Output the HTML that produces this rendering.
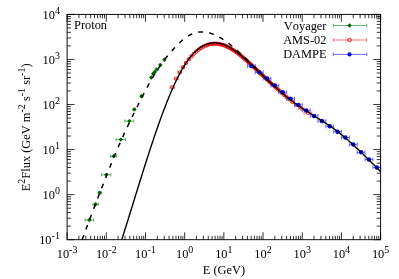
<!DOCTYPE html>
<html><head><meta charset="utf-8"><title>Proton</title>
<style>
html,body{margin:0;padding:0;background:#fff;}
body{width:399px;height:279px;overflow:hidden;position:relative;font-family:"Liberation Serif",serif;}
svg{will-change:transform;}
svg text{font-family:"Liberation Serif",serif;fill:#000;font-kerning:none;}
</style></head><body>
<svg width="399" height="279" viewBox="0 0 399 279" style="position:absolute;left:0;top:0">
<rect width="399" height="279" fill="#fff"/>
<path d="M67.10,239.7 v-7.4 M67.10,14.4 v7.4 M78.90,239.7 v-3.9 M78.90,14.4 v3.9 M85.80,239.7 v-3.9 M85.80,14.4 v3.9 M90.69,239.7 v-3.9 M90.69,14.4 v3.9 M94.49,239.7 v-3.9 M94.49,14.4 v3.9 M97.59,239.7 v-3.9 M97.59,14.4 v3.9 M100.22,239.7 v-3.9 M100.22,14.4 v3.9 M102.49,239.7 v-3.9 M102.49,14.4 v3.9 M104.49,239.7 v-3.9 M104.49,14.4 v3.9 M106.29,239.7 v-7.4 M106.29,14.4 v7.4 M118.08,239.7 v-3.9 M118.08,14.4 v3.9 M124.98,239.7 v-3.9 M124.98,14.4 v3.9 M129.88,239.7 v-3.9 M129.88,14.4 v3.9 M133.68,239.7 v-3.9 M133.68,14.4 v3.9 M136.78,239.7 v-3.9 M136.78,14.4 v3.9 M139.40,239.7 v-3.9 M139.40,14.4 v3.9 M141.68,239.7 v-3.9 M141.68,14.4 v3.9 M143.68,239.7 v-3.9 M143.68,14.4 v3.9 M145.47,239.7 v-7.4 M145.47,14.4 v7.4 M157.27,239.7 v-3.9 M157.27,14.4 v3.9 M164.17,239.7 v-3.9 M164.17,14.4 v3.9 M169.07,239.7 v-3.9 M169.07,14.4 v3.9 M172.87,239.7 v-3.9 M172.87,14.4 v3.9 M175.97,239.7 v-3.9 M175.97,14.4 v3.9 M178.59,239.7 v-3.9 M178.59,14.4 v3.9 M180.86,239.7 v-3.9 M180.86,14.4 v3.9 M182.87,239.7 v-3.9 M182.87,14.4 v3.9 M184.66,239.7 v-7.4 M184.66,14.4 v7.4 M196.46,239.7 v-3.9 M196.46,14.4 v3.9 M203.36,239.7 v-3.9 M203.36,14.4 v3.9 M208.26,239.7 v-3.9 M208.26,14.4 v3.9 M212.05,239.7 v-3.9 M212.05,14.4 v3.9 M215.16,239.7 v-3.9 M215.16,14.4 v3.9 M217.78,239.7 v-3.9 M217.78,14.4 v3.9 M220.05,239.7 v-3.9 M220.05,14.4 v3.9 M222.06,239.7 v-3.9 M222.06,14.4 v3.9 M223.85,239.7 v-7.4 M223.85,14.4 v7.4 M235.65,239.7 v-3.9 M235.65,14.4 v3.9 M242.55,239.7 v-3.9 M242.55,14.4 v3.9 M247.44,239.7 v-3.9 M247.44,14.4 v3.9 M251.24,239.7 v-3.9 M251.24,14.4 v3.9 M254.34,239.7 v-3.9 M254.34,14.4 v3.9 M256.97,239.7 v-3.9 M256.97,14.4 v3.9 M259.24,239.7 v-3.9 M259.24,14.4 v3.9 M261.24,239.7 v-3.9 M261.24,14.4 v3.9 M263.04,239.7 v-7.4 M263.04,14.4 v7.4 M274.83,239.7 v-3.9 M274.83,14.4 v3.9 M281.73,239.7 v-3.9 M281.73,14.4 v3.9 M286.63,239.7 v-3.9 M286.63,14.4 v3.9 M290.43,239.7 v-3.9 M290.43,14.4 v3.9 M293.53,239.7 v-3.9 M293.53,14.4 v3.9 M296.15,239.7 v-3.9 M296.15,14.4 v3.9 M298.43,239.7 v-3.9 M298.43,14.4 v3.9 M300.43,239.7 v-3.9 M300.43,14.4 v3.9 M302.23,239.7 v-7.4 M302.23,14.4 v7.4 M314.02,239.7 v-3.9 M314.02,14.4 v3.9 M320.92,239.7 v-3.9 M320.92,14.4 v3.9 M325.82,239.7 v-3.9 M325.82,14.4 v3.9 M329.62,239.7 v-3.9 M329.62,14.4 v3.9 M332.72,239.7 v-3.9 M332.72,14.4 v3.9 M335.34,239.7 v-3.9 M335.34,14.4 v3.9 M337.61,239.7 v-3.9 M337.61,14.4 v3.9 M339.62,239.7 v-3.9 M339.62,14.4 v3.9 M341.41,239.7 v-7.4 M341.41,14.4 v7.4 M353.21,239.7 v-3.9 M353.21,14.4 v3.9 M360.11,239.7 v-3.9 M360.11,14.4 v3.9 M365.01,239.7 v-3.9 M365.01,14.4 v3.9 M368.80,239.7 v-3.9 M368.80,14.4 v3.9 M371.91,239.7 v-3.9 M371.91,14.4 v3.9 M374.53,239.7 v-3.9 M374.53,14.4 v3.9 M376.80,239.7 v-3.9 M376.80,14.4 v3.9 M378.81,239.7 v-3.9 M378.81,14.4 v3.9 M380.60,239.7 v-7.4 M380.60,14.4 v7.4 M67.1,239.70 h7.4 M380.6,239.70 h-7.4 M67.1,226.14 h3.9 M380.6,226.14 h-3.9 M67.1,218.20 h3.9 M380.6,218.20 h-3.9 M67.1,212.57 h3.9 M380.6,212.57 h-3.9 M67.1,208.20 h3.9 M380.6,208.20 h-3.9 M67.1,204.64 h3.9 M380.6,204.64 h-3.9 M67.1,201.62 h3.9 M380.6,201.62 h-3.9 M67.1,199.01 h3.9 M380.6,199.01 h-3.9 M67.1,196.70 h3.9 M380.6,196.70 h-3.9 M67.1,194.64 h7.4 M380.6,194.64 h-7.4 M67.1,181.08 h3.9 M380.6,181.08 h-3.9 M67.1,173.14 h3.9 M380.6,173.14 h-3.9 M67.1,167.51 h3.9 M380.6,167.51 h-3.9 M67.1,163.14 h3.9 M380.6,163.14 h-3.9 M67.1,159.58 h3.9 M380.6,159.58 h-3.9 M67.1,156.56 h3.9 M380.6,156.56 h-3.9 M67.1,153.95 h3.9 M380.6,153.95 h-3.9 M67.1,151.64 h3.9 M380.6,151.64 h-3.9 M67.1,149.58 h7.4 M380.6,149.58 h-7.4 M67.1,136.02 h3.9 M380.6,136.02 h-3.9 M67.1,128.08 h3.9 M380.6,128.08 h-3.9 M67.1,122.45 h3.9 M380.6,122.45 h-3.9 M67.1,118.08 h3.9 M380.6,118.08 h-3.9 M67.1,114.52 h3.9 M380.6,114.52 h-3.9 M67.1,111.50 h3.9 M380.6,111.50 h-3.9 M67.1,108.89 h3.9 M380.6,108.89 h-3.9 M67.1,106.58 h3.9 M380.6,106.58 h-3.9 M67.1,104.52 h7.4 M380.6,104.52 h-7.4 M67.1,90.96 h3.9 M380.6,90.96 h-3.9 M67.1,83.02 h3.9 M380.6,83.02 h-3.9 M67.1,77.39 h3.9 M380.6,77.39 h-3.9 M67.1,73.02 h3.9 M380.6,73.02 h-3.9 M67.1,69.46 h3.9 M380.6,69.46 h-3.9 M67.1,66.44 h3.9 M380.6,66.44 h-3.9 M67.1,63.83 h3.9 M380.6,63.83 h-3.9 M67.1,61.52 h3.9 M380.6,61.52 h-3.9 M67.1,59.46 h7.4 M380.6,59.46 h-7.4 M67.1,45.90 h3.9 M380.6,45.90 h-3.9 M67.1,37.96 h3.9 M380.6,37.96 h-3.9 M67.1,32.33 h3.9 M380.6,32.33 h-3.9 M67.1,27.96 h3.9 M380.6,27.96 h-3.9 M67.1,24.40 h3.9 M380.6,24.40 h-3.9 M67.1,21.38 h3.9 M380.6,21.38 h-3.9 M67.1,18.77 h3.9 M380.6,18.77 h-3.9 M67.1,16.46 h3.9 M380.6,16.46 h-3.9 M67.1,14.40 h7.4 M380.6,14.40 h-7.4" stroke="#000" stroke-width="0.8" fill="none"/>
<path d="M85.10,220.00 h8.40 M85.10,218.40 v3.2 M93.50,218.40 v3.2 M92.90,204.20 h5.40 M92.90,202.60 v3.2 M98.30,202.60 v3.2 M98.30,192.80 h3.00 M98.30,191.20 v3.2 M101.30,191.20 v3.2 M101.70,174.80 h9.20 M101.70,173.20 v3.2 M110.90,173.20 v3.2 M110.60,156.20 h6.00 M110.60,154.60 v3.2 M116.60,154.60 v3.2 M116.00,139.60 h9.60 M116.00,138.00 v3.2 M125.60,138.00 v3.2 M124.80,121.10 h9.00 M124.80,119.50 v3.2 M133.80,119.50 v3.2 M133.10,109.40 h2.40 M133.10,107.80 v3.2 M135.50,107.80 v3.2 M140.30,96.20 h2.40 M140.30,94.60 v3.2 M142.70,94.60 v3.2 M150.50,77.50 h1.60 M150.50,75.90 v3.2 M152.10,75.90 v3.2 M152.40,73.80 h1.60 M152.40,72.20 v3.2 M154.00,72.20 v3.2 M154.00,71.90 h1.60 M154.00,70.30 v3.2 M155.60,70.30 v3.2 M156.10,69.40 h1.60 M156.10,67.80 v3.2 M157.70,67.80 v3.2 M159.50,65.00 h1.60 M159.50,63.40 v3.2 M161.10,63.40 v3.2 M163.60,59.70 h1.60 M163.60,58.10 v3.2 M165.20,58.10 v3.2" stroke="#2e8b3e" stroke-width="0.7" fill="none"/>
<g fill="#006400"><path d="M87.10,220.00 L89.30,217.80 L91.50,220.00 L89.30,222.20 Z"/><path d="M93.40,204.20 L95.60,202.00 L97.80,204.20 L95.60,206.40 Z"/><path d="M97.60,192.80 L99.80,190.60 L102.00,192.80 L99.80,195.00 Z"/><path d="M104.10,174.80 L106.30,172.60 L108.50,174.80 L106.30,177.00 Z"/><path d="M111.40,156.20 L113.60,154.00 L115.80,156.20 L113.60,158.40 Z"/><path d="M118.60,139.60 L120.80,137.40 L123.00,139.60 L120.80,141.80 Z"/><path d="M127.10,121.10 L129.30,118.90 L131.50,121.10 L129.30,123.30 Z"/><path d="M132.10,109.40 L134.30,107.20 L136.50,109.40 L134.30,111.60 Z"/><path d="M139.30,96.20 L141.50,94.00 L143.70,96.20 L141.50,98.40 Z"/><path d="M149.10,77.50 L151.30,75.30 L153.50,77.50 L151.30,79.70 Z"/><path d="M151.00,73.80 L153.20,71.60 L155.40,73.80 L153.20,76.00 Z"/><path d="M152.60,71.90 L154.80,69.70 L157.00,71.90 L154.80,74.10 Z"/><path d="M154.70,69.40 L156.90,67.20 L159.10,69.40 L156.90,71.60 Z"/><path d="M158.10,65.00 L160.30,62.80 L162.50,65.00 L160.30,67.20 Z"/><path d="M162.20,59.70 L164.40,57.50 L166.60,59.70 L164.40,61.90 Z"/></g>
<path d="M170.12,87.20 H174.30 M170.12,85.50 v3.4 M174.30,85.50 v3.4 M174.30,78.53 H178.03 M174.30,76.83 v3.4 M178.03,76.83 v3.4 M178.03,72.31 H181.39 M178.03,70.61 v3.4 M181.39,70.61 v3.4 M181.39,67.22 H184.57 M181.39,65.52 v3.4 M184.57,65.52 v3.4 M184.57,62.94 H187.45 M184.57,61.24 v3.4 M187.45,61.24 v3.4 M187.45,59.31 H190.18 M187.45,57.61 v3.4 M190.18,57.61 v3.4 M190.18,56.28 H192.77 M190.18,54.58 v3.4 M192.77,54.58 v3.4 M192.77,53.65 H195.21 M192.77,51.95 v3.4 M195.21,51.95 v3.4 M195.21,51.43 H197.60 M195.21,49.73 v3.4 M197.60,49.73 v3.4 M197.60,49.56 H199.84 M197.60,47.86 v3.4 M199.84,47.86 v3.4 M199.84,48.02 H202.01 M199.84,46.32 v3.4 M202.01,46.32 v3.4 M202.01,46.78 H204.10 M202.01,45.08 v3.4 M204.10,45.08 v3.4 M204.10,45.80 H206.12 M204.10,44.10 v3.4 M206.12,44.10 v3.4 M206.12,45.02 H208.09 M206.12,43.32 v3.4 M208.09,43.32 v3.4 M208.09,44.44 H210.01 M208.09,42.74 v3.4 M210.01,42.74 v3.4 M210.01,44.05 H211.88 M210.01,42.35 v3.4 M211.88,42.35 v3.4 M211.88,43.82 H213.68 M211.88,42.12 v3.4 M213.68,42.12 v3.4 M213.68,43.72 H215.45 M213.68,42.02 v3.4 M215.45,42.02 v3.4 M215.45,43.75 H217.18 M215.45,42.05 v3.4 M217.18,42.05 v3.4 M217.18,43.91 H218.87 M217.18,42.21 v3.4 M218.87,42.21 v3.4 M218.87,44.18 H220.52 M218.87,42.48 v3.4 M220.52,42.48 v3.4 M220.52,44.56 H222.14 M220.52,42.86 v3.4 M222.14,42.86 v3.4 M222.14,45.02 H223.72 M222.14,43.32 v3.4 M223.72,43.32 v3.4 M223.72,45.58 H225.32 M223.72,43.88 v3.4 M225.32,43.88 v3.4 M225.32,46.20 H226.79 M225.32,44.50 v3.4 M226.79,44.50 v3.4 M226.79,46.86 H228.27 M226.79,45.16 v3.4 M228.27,45.16 v3.4 M228.27,47.60 H229.74 M228.27,45.90 v3.4 M229.74,45.90 v3.4 M229.74,48.41 H231.21 M229.74,46.71 v3.4 M231.21,46.71 v3.4 M231.21,49.27 H232.67 M231.21,47.57 v3.4 M232.67,47.57 v3.4 M232.67,50.18 H234.10 M232.67,48.48 v3.4 M234.10,48.48 v3.4 M234.10,51.12 H235.50 M234.10,49.42 v3.4 M235.50,49.42 v3.4 M235.50,52.10 H236.88 M235.50,50.40 v3.4 M236.88,50.40 v3.4 M236.88,53.12 H238.29 M236.88,51.42 v3.4 M238.29,51.42 v3.4 M238.29,54.18 H239.67 M238.29,52.48 v3.4 M239.67,52.48 v3.4 M239.67,55.25 H241.00 M239.67,53.55 v3.4 M241.00,53.55 v3.4 M241.00,56.35 H242.35 M241.00,54.65 v3.4 M242.35,54.65 v3.4 M242.35,57.46 H243.65 M242.35,55.76 v3.4 M243.65,55.76 v3.4 M243.65,58.58 H244.96 M243.65,56.88 v3.4 M244.96,56.88 v3.4 M244.96,59.71 H246.26 M244.96,58.01 v3.4 M246.26,58.01 v3.4 M246.26,60.86 H247.55 M246.26,59.16 v3.4 M247.55,59.16 v3.4 M247.55,62.02 H248.83 M247.55,60.32 v3.4 M248.83,60.32 v3.4 M248.83,63.17 H250.09 M248.83,61.47 v3.4 M250.09,61.47 v3.4 M250.09,64.33 H251.37 M250.09,62.63 v3.4 M251.37,62.63 v3.4 M251.37,65.49 H252.62 M251.37,63.79 v3.4 M252.62,63.79 v3.4 M252.62,66.64 H253.86 M252.62,64.94 v3.4 M253.86,64.94 v3.4 M253.86,67.79 H255.11 M253.86,66.09 v3.4 M255.11,66.09 v3.4 M255.11,68.96 H256.37 M255.11,67.26 v3.4 M256.37,67.26 v3.4 M256.37,70.14 H257.61 M256.37,68.44 v3.4 M257.61,68.44 v3.4 M257.61,71.31 H258.85 M257.61,69.61 v3.4 M258.85,69.61 v3.4 M258.85,72.48 H260.08 M258.85,70.78 v3.4 M260.08,70.78 v3.4 M260.08,73.65 H261.33 M260.08,71.95 v3.4 M261.33,71.95 v3.4 M261.33,74.82 H262.58 M261.33,73.12 v3.4 M262.58,73.12 v3.4 M262.58,76.02 H263.90 M262.58,74.32 v3.4 M263.90,74.32 v3.4 M263.90,77.21 H265.13 M263.90,75.51 v3.4 M265.13,75.51 v3.4 M265.13,78.37 H266.41 M265.13,76.67 v3.4 M266.41,76.67 v3.4 M266.41,79.58 H267.73 M266.41,77.88 v3.4 M267.73,77.88 v3.4 M267.73,80.86 H269.19 M267.73,79.16 v3.4 M269.19,79.16 v3.4 M269.19,82.20 H270.64 M269.19,80.50 v3.4 M270.64,80.50 v3.4 M270.64,83.57 H272.17 M270.64,81.87 v3.4 M272.17,81.87 v3.4 M272.17,85.00 H273.76 M272.17,83.30 v3.4 M273.76,83.30 v3.4 M273.76,86.46 H275.37 M273.76,84.76 v3.4 M275.37,84.76 v3.4 M275.37,87.96 H277.06 M275.37,86.26 v3.4 M277.06,86.26 v3.4 M277.06,89.53 H278.87 M277.06,87.83 v3.4 M278.87,87.83 v3.4 M278.87,91.21 H280.86 M278.87,89.51 v3.4 M280.86,89.51 v3.4 M280.86,93.02 H283.01 M280.86,91.32 v3.4 M283.01,91.32 v3.4 M283.01,94.96 H285.37 M283.01,93.26 v3.4 M285.37,93.26 v3.4 M285.37,97.06 H287.96 M285.37,95.36 v3.4 M287.96,95.36 v3.4 M287.96,99.38 H290.93 M287.96,97.68 v3.4 M290.93,97.68 v3.4 M290.93,101.97 H294.38 M290.93,100.27 v3.4 M294.38,100.27 v3.4 M294.38,104.90 H298.57 M294.38,103.20 v3.4 M298.57,103.20 v3.4 M298.57,108.38 H303.99 M298.57,106.68 v3.4 M303.99,106.68 v3.4 M303.99,112.92 H311.92 M303.99,111.22 v3.4 M311.92,111.22 v3.4" stroke="#ff3030" stroke-width="0.6" fill="none"/>
<g fill="none" stroke="#ff0000" stroke-width="0.85"><circle cx="172.23" cy="87.20" r="1.65"/><circle cx="176.19" cy="78.53" r="1.65"/><circle cx="179.72" cy="72.31" r="1.65"/><circle cx="182.99" cy="67.22" r="1.65"/><circle cx="186.02" cy="62.94" r="1.65"/><circle cx="188.83" cy="59.31" r="1.65"/><circle cx="191.48" cy="56.28" r="1.65"/><circle cx="194.00" cy="53.65" r="1.65"/><circle cx="196.41" cy="51.43" r="1.65"/><circle cx="198.73" cy="49.56" r="1.65"/><circle cx="200.93" cy="48.02" r="1.65"/><circle cx="203.06" cy="46.78" r="1.65"/><circle cx="205.11" cy="45.80" r="1.65"/><circle cx="207.11" cy="45.02" r="1.65"/><circle cx="209.05" cy="44.44" r="1.65"/><circle cx="210.95" cy="44.05" r="1.65"/><circle cx="212.78" cy="43.82" r="1.65"/><circle cx="214.57" cy="43.72" r="1.65"/><circle cx="216.32" cy="43.75" r="1.65"/><circle cx="218.03" cy="43.91" r="1.65"/><circle cx="219.69" cy="44.18" r="1.65"/><circle cx="221.33" cy="44.56" r="1.65"/><circle cx="222.93" cy="45.02" r="1.65"/><circle cx="224.52" cy="45.58" r="1.65"/><circle cx="226.06" cy="46.20" r="1.65"/><circle cx="227.53" cy="46.86" r="1.65"/><circle cx="229.01" cy="47.60" r="1.65"/><circle cx="230.48" cy="48.41" r="1.65"/><circle cx="231.94" cy="49.27" r="1.65"/><circle cx="233.38" cy="50.18" r="1.65"/><circle cx="234.80" cy="51.12" r="1.65"/><circle cx="236.19" cy="52.10" r="1.65"/><circle cx="237.59" cy="53.12" r="1.65"/><circle cx="238.98" cy="54.18" r="1.65"/><circle cx="240.33" cy="55.25" r="1.65"/><circle cx="241.67" cy="56.35" r="1.65"/><circle cx="243.00" cy="57.46" r="1.65"/><circle cx="244.30" cy="58.58" r="1.65"/><circle cx="245.61" cy="59.71" r="1.65"/><circle cx="246.91" cy="60.86" r="1.65"/><circle cx="248.19" cy="62.02" r="1.65"/><circle cx="249.46" cy="63.17" r="1.65"/><circle cx="250.73" cy="64.33" r="1.65"/><circle cx="251.99" cy="65.49" r="1.65"/><circle cx="253.24" cy="66.64" r="1.65"/><circle cx="254.49" cy="67.79" r="1.65"/><circle cx="255.74" cy="68.96" r="1.65"/><circle cx="256.99" cy="70.14" r="1.65"/><circle cx="258.23" cy="71.31" r="1.65"/><circle cx="259.47" cy="72.48" r="1.65"/><circle cx="260.71" cy="73.65" r="1.65"/><circle cx="261.95" cy="74.82" r="1.65"/><circle cx="263.24" cy="76.02" r="1.65"/><circle cx="264.51" cy="77.21" r="1.65"/><circle cx="265.77" cy="78.37" r="1.65"/><circle cx="267.07" cy="79.58" r="1.65"/><circle cx="268.46" cy="80.86" r="1.65"/><circle cx="269.91" cy="82.20" r="1.65"/><circle cx="271.40" cy="83.57" r="1.65"/><circle cx="272.96" cy="85.00" r="1.65"/><circle cx="274.56" cy="86.46" r="1.65"/><circle cx="276.22" cy="87.96" r="1.65"/><circle cx="277.97" cy="89.53" r="1.65"/><circle cx="279.87" cy="91.21" r="1.65"/><circle cx="281.94" cy="93.02" r="1.65"/><circle cx="284.19" cy="94.96" r="1.65"/><circle cx="286.66" cy="97.06" r="1.65"/><circle cx="289.44" cy="99.38" r="1.65"/><circle cx="292.66" cy="101.97" r="1.65"/><circle cx="296.48" cy="104.90" r="1.65"/><circle cx="301.28" cy="108.38" r="1.65"/><circle cx="307.96" cy="112.92" r="1.65"/></g>
<path d="M247.44,66.00 H255.28 M247.44,64.00 v4 M255.28,64.00 v4 M255.28,72.30 H263.12 M255.28,70.30 v4 M263.12,70.30 v4 M263.12,78.60 H270.96 M263.12,76.60 v4 M270.96,76.60 v4 M270.96,85.60 H278.79 M270.96,83.60 v4 M278.79,83.60 v4 M278.79,92.20 H286.63 M278.79,90.20 v4 M286.63,90.20 v4 M286.63,98.80 H294.47 M286.63,96.80 v4 M294.47,96.80 v4 M294.47,104.90 H302.31 M294.47,102.90 v4 M302.31,102.90 v4 M302.31,110.40 H310.14 M302.31,108.40 v4 M310.14,108.40 v4 M310.14,115.90 H317.98 M310.14,113.90 v4 M317.98,113.90 v4 M317.98,121.00 H325.82 M317.98,119.00 v4 M325.82,119.00 v4 M325.82,126.30 H333.66 M325.82,124.30 v4 M333.66,124.30 v4 M333.66,131.70 H341.49 M333.66,129.70 v4 M341.49,129.70 v4 M341.49,137.60 H349.33 M341.49,135.60 v4 M349.33,135.60 v4 M349.33,144.60 H357.17 M349.33,142.60 v4 M357.17,142.60 v4 M357.17,152.30 H365.01 M357.17,150.30 v4 M365.01,150.30 v4 M365.01,159.50 H372.84 M365.01,157.50 v4 M372.84,157.50 v4 M372.84,167.40 H380.68 M372.84,165.40 v4 M380.68,165.40 v4" stroke="#3030ff" stroke-width="0.7" fill="none"/>
<g fill="#0000ff"><circle cx="251.36" cy="66.00" r="2.25"/><circle cx="259.20" cy="72.30" r="2.25"/><circle cx="267.04" cy="78.60" r="2.25"/><circle cx="274.87" cy="85.60" r="2.25"/><circle cx="282.71" cy="92.20" r="2.25"/><circle cx="290.55" cy="98.80" r="2.25"/><circle cx="298.39" cy="104.90" r="2.25"/><circle cx="306.22" cy="110.40" r="2.25"/><circle cx="314.06" cy="115.90" r="2.25"/><circle cx="321.90" cy="121.00" r="2.25"/><circle cx="329.74" cy="126.30" r="2.25"/><circle cx="337.57" cy="131.70" r="2.25"/><circle cx="345.41" cy="137.60" r="2.25"/><circle cx="353.25" cy="144.60" r="2.25"/><circle cx="361.09" cy="152.30" r="2.25"/><circle cx="368.92" cy="159.50" r="2.25"/><circle cx="376.76" cy="167.40" r="2.25"/></g>
<path d="M82.10,239.88 L82.48,238.84 L82.85,237.81 L83.23,236.78 L83.61,235.75 L83.98,234.72 L84.36,233.69 L84.74,232.67 L85.11,231.64 L85.49,230.62 L85.87,229.61 L86.24,228.59 L86.62,227.58 L87.00,226.56 L87.37,225.55 L87.75,224.54 L88.12,223.54 L88.50,222.53 L88.88,221.53 L89.25,220.52 L89.63,219.52 L90.01,218.52 L90.38,217.52 L90.76,216.53 L91.14,215.53 L91.51,214.54 L91.89,213.55 L92.27,212.56 L92.64,211.57 L93.02,210.58 L93.40,209.59 L93.77,208.60 L94.15,207.62 L94.53,206.64 L94.90,205.65 L95.28,204.67 L95.66,203.69 L96.03,202.71 L96.41,201.73 L96.79,200.75 L97.16,199.78 L97.54,198.80 L97.92,197.83 L98.29,196.85 L98.67,195.88 L99.04,194.90 L99.42,193.93 L99.80,192.96 L100.17,191.99 L100.55,191.02 L100.93,190.05 L101.30,189.08 L101.68,188.11 L102.06,187.14 L102.43,186.17 L102.81,185.20 L103.19,184.23 L103.56,183.26 L103.94,182.30 L104.32,181.33 L104.69,180.36 L105.07,179.40 L105.45,178.44 L105.82,177.47 L106.20,176.51 L106.58,175.55 L106.95,174.59 L107.33,173.64 L107.71,172.68 L108.08,171.73 L108.46,170.78 L108.84,169.83 L109.21,168.88 L109.59,167.93 L109.96,166.99 L110.34,166.05 L110.72,165.12 L111.09,164.18 L111.47,163.25 L111.85,162.32 L112.22,161.39 L112.60,160.47 L112.98,159.55 L113.35,158.64 L113.73,157.72 L114.11,156.82 L114.48,155.91 L114.86,155.01 L115.24,154.11 L115.61,153.22 L115.99,152.33 L116.37,151.44 L116.74,150.56 L117.12,149.68 L117.50,148.80 L117.87,147.92 L118.25,147.05 L118.63,146.19 L119.00,145.32 L119.38,144.46 L119.76,143.60 L120.13,142.75 L120.51,141.90 L120.88,141.05 L121.26,140.20 L121.64,139.36 L122.01,138.52 L122.39,137.68 L122.77,136.85 L123.14,136.02 L123.52,135.19 L123.90,134.36 L124.27,133.54 L124.65,132.72 L125.03,131.90 L125.40,131.09 L125.78,130.28 L126.16,129.47 L126.53,128.66 L126.91,127.85 L127.29,127.05 L127.66,126.25 L128.04,125.46 L128.42,124.66 L128.79,123.87 L129.17,123.08 L129.55,122.29 L129.92,121.51 L130.30,120.72 L130.68,119.94 L131.05,119.16 L131.43,118.39 L131.81,117.61 L132.18,116.84 L132.56,116.07 L132.93,115.30 L133.31,114.53 L133.69,113.77 L134.06,113.01 L134.44,112.24 L134.82,111.49 L135.19,110.73 L135.57,109.97 L135.95,109.22 L136.32,108.47 L136.70,107.71 L137.08,106.96 L137.45,106.22 L137.83,105.47 L138.21,104.72 L138.58,103.98 L138.96,103.24 L139.34,102.50 L139.71,101.76 L140.09,101.02 L140.47,100.28 L140.84,99.54 L141.22,98.80 L141.60,98.07 L141.97,97.33 L142.35,96.60 L142.73,95.87 L143.10,95.13 L143.48,94.40 L143.85,93.67 L144.23,92.94 L144.61,92.22 L144.98,91.49 L145.36,90.77 L145.74,90.05 L146.11,89.33 L146.49,88.61 L146.87,87.90 L147.24,87.19 L147.62,86.48 L148.00,85.78 L148.37,85.08 L148.75,84.39 L149.13,83.70 L149.50,83.01 L149.88,82.33 L150.26,81.66 L150.63,80.99 L151.01,80.32 L151.39,79.67 L151.76,79.01 L152.14,78.36 L152.52,77.72 L152.89,77.08 L153.27,76.45 L153.65,75.82 L154.02,75.20 L154.40,74.58 L154.77,73.97 L155.15,73.36 L155.53,72.76 L155.90,72.16 L156.28,71.57 L156.66,70.98 L157.03,70.39 L157.41,69.82 L157.79,69.24 L158.16,68.67 L158.54,68.11 L158.92,67.55 L159.29,66.99 L159.67,66.44 L160.05,65.89 L160.42,65.35 L160.80,64.81 L161.18,64.28 L161.55,63.75 L161.93,63.23 L162.31,62.70 L162.68,62.19 L163.06,61.68 L163.44,61.17 L163.81,60.66 L164.19,60.16 L164.57,59.67 L164.94,59.17 L165.32,58.69 L165.69,58.20 L166.07,57.72 L166.45,57.24 L166.82,56.77 L167.20,56.30 L167.58,55.83 L167.95,55.37 L168.33,54.91 L168.71,54.46 L169.08,54.01 L169.46,53.56 L169.84,53.11 L170.21,52.67 L170.59,52.24 L170.97,51.80 L171.34,51.37 L171.72,50.94 L172.10,50.52 L172.47,50.09 L172.85,49.68 L173.23,49.26 L173.60,48.85 L173.98,48.44 L174.36,48.03 L174.73,47.63 L175.11,47.23 L175.49,46.83 L175.86,46.44 L176.24,46.05 L176.61,45.66 L176.99,45.28 L177.37,44.90 L177.74,44.52 L178.12,44.15 L178.50,43.79 L178.87,43.42 L179.25,43.06 L179.63,42.71 L180.00,42.36 L180.38,42.01 L180.76,41.67 L181.13,41.33 L181.51,41.00 L181.89,40.67 L182.26,40.35 L182.64,40.03 L183.02,39.71 L183.39,39.41 L183.77,39.10 L184.15,38.81 L184.52,38.51 L184.90,38.23 L185.28,37.95 L185.65,37.67 L186.03,37.40 L186.41,37.14 L186.78,36.88 L187.16,36.63 L187.53,36.38 L187.91,36.14 L188.29,35.91 L188.66,35.68 L189.04,35.46 L189.42,35.25 L189.79,35.04 L190.17,34.84 L190.55,34.65 L190.92,34.46 L191.30,34.28 L191.68,34.11 L192.05,33.94 L192.43,33.79 L192.81,33.63 L193.18,33.49 L193.56,33.35 L193.94,33.22 L194.31,33.09 L194.69,32.97 L195.07,32.86 L195.44,32.75 L195.82,32.65 L196.20,32.56 L196.57,32.47 L196.95,32.39 L197.33,32.31 L197.70,32.25 L198.08,32.18 L198.45,32.13 L198.83,32.08 L199.21,32.03 L199.58,31.99 L199.96,31.96 L200.34,31.93 L200.71,31.91 L201.09,31.90 L201.47,31.89 L201.84,31.88 L202.22,31.88 L202.60,31.89 L202.97,31.90 L203.35,31.92 L203.73,31.95 L204.10,31.98 L204.48,32.01 L204.86,32.05 L205.23,32.09 L205.61,32.15 L205.99,32.20 L206.36,32.26 L206.74,32.33 L207.12,32.40 L207.49,32.47 L207.87,32.55 L208.25,32.64 L208.62,32.73 L209.00,32.83 L209.37,32.93 L209.75,33.03 L210.13,33.14 L210.50,33.25 L210.88,33.37 L211.26,33.50 L211.63,33.62 L212.01,33.76 L212.39,33.89 L212.76,34.03 L213.14,34.18 L213.52,34.33 L213.89,34.48 L214.27,34.64 L214.65,34.80 L215.02,34.97 L215.40,35.14 L215.78,35.32 L216.15,35.49 L216.53,35.68 L216.91,35.86 L217.28,36.05 L217.66,36.25 L218.04,36.44 L218.41,36.65 L218.79,36.85 L219.17,37.06 L219.54,37.27 L219.92,37.49 L220.29,37.71 L220.67,37.93 L221.05,38.16 L221.42,38.39 L221.80,38.62 L222.18,38.86 L222.55,39.09 L222.93,39.34 L223.31,39.58 L223.68,39.83 L224.06,40.08 L224.44,40.34 L224.81,40.60 L225.19,40.86 L225.57,41.12 L225.94,41.39 L226.32,41.66 L226.70,41.93 L227.07,42.21 L227.45,42.48 L227.83,42.77 L228.20,43.05 L228.58,43.33 L228.96,43.62 L229.33,43.91 L229.71,44.21 L230.09,44.50 L230.46,44.80 L230.84,45.10 L231.22,45.41 L231.59,45.71 L231.97,46.02 L232.34,46.33 L232.72,46.64 L233.10,46.96 L233.47,47.28 L233.85,47.59 L234.23,47.91 L234.60,48.24 L234.98,48.56 L235.36,48.89 L235.73,49.22 L236.11,49.55 L236.49,49.88 L236.86,50.22 L237.24,50.55 L237.62,50.89 L237.99,51.23 L238.37,51.57 L238.75,51.91 L239.12,52.26 L239.50,52.60 L239.88,52.95 L240.25,53.30 L240.63,53.65 L241.01,54.00 L241.38,54.35 L241.76,54.71 L242.14,55.06 L242.51,55.42 L242.89,55.78 L243.26,56.13 L243.64,56.49 L244.02,56.85 L244.39,57.21 L244.77,57.57 L245.15,57.93 L245.52,58.30 L245.90,58.66 L246.28,59.02 L246.65,59.38 L247.03,59.75 L247.41,60.11 L247.78,60.47 L248.16,60.84 L248.54,61.20 L248.91,61.57 L249.29,61.93 L249.67,62.29 L250.04,62.66 L250.42,63.02 L250.80,63.39 L251.17,63.75 L251.55,64.12 L251.93,64.49 L252.30,64.85 L252.68,65.22 L253.06,65.58 L253.43,65.95 L253.81,66.32 L254.18,66.68 L254.56,67.05 L254.94,67.42 L255.31,67.79 L255.69,68.16 L256.07,68.52 L256.44,68.89 L256.82,69.26 L257.20,69.63 L257.57,70.00 L257.95,70.37 L258.33,70.74 L258.70,71.11 L259.08,71.48 L259.46,71.85 L259.83,72.22 L260.21,72.60 L260.59,72.97 L260.96,73.34 L261.34,73.71 L261.72,74.09 L262.09,74.46 L262.47,74.83 L262.85,75.21 L263.22,75.58 L263.60,75.96 L263.98,76.33 L264.35,76.71 L264.73,77.08 L265.10,77.46 L265.48,77.83 L265.86,78.21 L266.23,78.59 L266.61,78.96 L266.99,79.34 L267.36,79.72 L267.74,80.10 L268.12,80.48 L268.49,80.86 L268.87,81.24 L269.25,81.62 L269.62,82.00 L270.00,82.38" stroke="#000" stroke-width="1.5" fill="none" stroke-dasharray="4.8 6.25" stroke-dashoffset="0"/>
<path d="M121.80,239.64 L122.32,238.00 L122.84,236.36 L123.36,234.71 L123.87,233.06 L124.39,231.41 L124.91,229.75 L125.43,228.09 L125.95,226.43 L126.47,224.77 L126.99,223.10 L127.51,221.43 L128.02,219.76 L128.54,218.09 L129.06,216.42 L129.58,214.75 L130.10,213.07 L130.62,211.40 L131.14,209.72 L131.65,208.04 L132.17,206.37 L132.69,204.69 L133.21,203.01 L133.73,201.33 L134.25,199.66 L134.77,197.98 L135.28,196.30 L135.80,194.63 L136.32,192.95 L136.84,191.28 L137.36,189.61 L137.88,187.94 L138.40,186.27 L138.92,184.60 L139.43,182.94 L139.95,181.27 L140.47,179.61 L140.99,177.96 L141.51,176.30 L142.03,174.65 L142.55,173.00 L143.06,171.35 L143.58,169.71 L144.10,168.07 L144.62,166.43 L145.14,164.80 L145.66,163.17 L146.18,161.55 L146.69,159.93 L147.21,158.32 L147.73,156.71 L148.25,155.10 L148.77,153.50 L149.29,151.91 L149.81,150.32 L150.33,148.74 L150.84,147.16 L151.36,145.59 L151.88,144.02 L152.40,142.46 L152.92,140.91 L153.44,139.37 L153.96,137.83 L154.47,136.29 L154.99,134.77 L155.51,133.25 L156.03,131.74 L156.55,130.24 L157.07,128.74 L157.59,127.26 L158.10,125.78 L158.62,124.31 L159.14,122.85 L159.66,121.39 L160.18,119.95 L160.70,118.52 L161.22,117.09 L161.74,115.67 L162.25,114.27 L162.77,112.87 L163.29,111.48 L163.81,110.11 L164.33,108.74 L164.85,107.38 L165.37,106.04 L165.88,104.70 L166.40,103.38 L166.92,102.07 L167.44,100.77 L167.96,99.48 L168.48,98.20 L169.00,96.93 L169.51,95.68 L170.03,94.43 L170.55,93.20 L171.07,91.99 L171.59,90.78 L172.11,89.59 L172.63,88.41 L173.15,87.24 L173.66,86.09 L174.18,84.95 L174.70,83.83 L175.22,82.72 L175.74,81.62 L176.26,80.53 L176.78,79.47 L177.29,78.41 L177.81,77.37 L178.33,76.35 L178.85,75.34 L179.37,74.34 L179.89,73.37 L180.41,72.40 L180.92,71.45 L181.44,70.52 L181.96,69.61 L182.48,68.71 L183.00,67.83 L183.52,66.96 L184.04,66.11 L184.56,65.28 L185.07,64.46 L185.59,63.66 L186.11,62.88 L186.63,62.12 L187.15,61.37 L187.67,60.63 L188.19,59.92 L188.70,59.22 L189.22,58.53 L189.74,57.86 L190.26,57.21 L190.78,56.58 L191.30,55.96 L191.82,55.35 L192.33,54.76 L192.85,54.19 L193.37,53.63 L193.89,53.08 L194.41,52.56 L194.93,52.04 L195.45,51.55 L195.97,51.06 L196.48,50.59 L197.00,50.14 L197.52,49.70 L198.04,49.28 L198.56,48.87 L199.08,48.47 L199.60,48.09 L200.11,47.72 L200.63,47.37 L201.15,47.03 L201.67,46.71 L202.19,46.40 L202.71,46.10 L203.23,45.82 L203.74,45.55 L204.26,45.29 L204.78,45.05 L205.30,44.82 L205.82,44.60 L206.34,44.40 L206.86,44.21 L207.38,44.03 L207.89,43.87 L208.41,43.71 L208.93,43.57 L209.45,43.45 L209.97,43.33 L210.49,43.23 L211.01,43.14 L211.52,43.07 L212.04,43.00 L212.56,42.95 L213.08,42.91 L213.60,42.88 L214.12,42.86 L214.64,42.86 L215.15,42.86 L215.67,42.88 L216.19,42.91 L216.71,42.95 L217.23,43.00 L217.75,43.07 L218.27,43.14 L218.79,43.23 L219.30,43.32 L219.82,43.43 L220.34,43.55 L220.86,43.68 L221.38,43.81 L221.90,43.96 L222.42,44.12 L222.93,44.29 L223.45,44.47 L223.97,44.66 L224.49,44.86 L225.01,45.07 L225.53,45.29 L226.05,45.52 L226.56,45.76 L227.08,46.01 L227.60,46.27 L228.12,46.53 L228.64,46.81 L229.16,47.09 L229.68,47.38 L230.20,47.68 L230.71,47.99 L231.23,48.31 L231.75,48.63 L232.27,48.97 L232.79,49.30 L233.31,49.65 L233.83,50.00 L234.34,50.36 L234.86,50.73 L235.38,51.10 L235.90,51.48 L236.42,51.87 L236.94,52.26 L237.46,52.66 L237.97,53.06 L238.49,53.47 L239.01,53.88 L239.53,54.30 L240.05,54.73 L240.57,55.15 L241.09,55.59 L241.61,56.02 L242.12,56.47 L242.64,56.91 L243.16,57.36 L243.68,57.81 L244.20,58.27 L244.72,58.73 L245.24,59.19 L245.75,59.66 L246.27,60.13 L246.79,60.60 L247.31,61.07 L247.83,61.55 L248.35,62.02 L248.87,62.50 L249.38,62.99 L249.90,63.47 L250.42,63.95 L250.94,64.44 L251.46,64.93 L251.98,65.41 L252.50,65.90 L253.02,66.39 L253.53,66.88 L254.05,67.37 L254.57,67.86 L255.09,68.34 L255.61,68.83 L256.13,69.32 L256.65,69.81 L257.16,70.30 L257.68,70.78 L258.20,71.27 L258.72,71.75 L259.24,72.24 L259.76,72.72 L260.28,73.21 L260.79,73.69 L261.31,74.17 L261.83,74.66 L262.35,75.14 L262.87,75.62 L263.39,76.10 L263.91,76.58 L264.43,77.06 L264.94,77.54 L265.46,78.02 L265.98,78.50 L266.50,78.97 L267.02,79.45 L267.54,79.93 L268.06,80.40 L268.57,80.88 L269.09,81.35 L269.61,81.82 L270.13,82.30 L270.65,82.77 L271.17,83.24 L271.69,83.71 L272.20,84.18 L272.72,84.65 L273.24,85.12 L273.76,85.58 L274.28,86.05 L274.80,86.51 L275.32,86.97 L275.84,87.44 L276.35,87.90 L276.87,88.36 L277.39,88.81 L277.91,89.27 L278.43,89.73 L278.95,90.18 L279.47,90.63 L279.98,91.08 L280.50,91.53 L281.02,91.98 L281.54,92.42 L282.06,92.87 L282.58,93.31 L283.10,93.75 L283.61,94.19 L284.13,94.62 L284.65,95.06 L285.17,95.49 L285.69,95.92 L286.21,96.35 L286.73,96.77 L287.25,97.20 L287.76,97.62 L288.28,98.03 L288.80,98.45 L289.32,98.86 L289.84,99.28 L290.36,99.68 L290.88,100.09 L291.39,100.49 L291.91,100.89 L292.43,101.29 L292.95,101.69 L293.47,102.08 L293.99,102.47 L294.51,102.86 L295.02,103.24 L295.54,103.62 L296.06,104.00 L296.58,104.37 L297.10,104.74 L297.62,105.11 L298.14,105.48 L298.66,105.84 L299.17,106.21 L299.69,106.56 L300.21,106.92 L300.73,107.28 L301.25,107.63 L301.77,107.98 L302.29,108.33 L302.80,108.67 L303.32,109.02 L303.84,109.36 L304.36,109.70 L304.88,110.04 L305.40,110.38 L305.92,110.72 L306.43,111.05 L306.95,111.38 L307.47,111.72 L307.99,112.05 L308.51,112.38 L309.03,112.71 L309.55,113.04 L310.07,113.36 L310.58,113.69 L311.10,114.02 L311.62,114.34 L312.14,114.67 L312.66,114.99 L313.18,115.32 L313.70,115.64 L314.21,115.96 L314.73,116.29 L315.25,116.61 L315.77,116.93 L316.29,117.26 L316.81,117.58 L317.33,117.90 L317.84,118.23 L318.36,118.55 L318.88,118.88 L319.40,119.20 L319.92,119.53 L320.44,119.86 L320.96,120.18 L321.48,120.51 L321.99,120.84 L322.51,121.17 L323.03,121.51 L323.55,121.84 L324.07,122.17 L324.59,122.51 L325.11,122.85 L325.62,123.18 L326.14,123.52 L326.66,123.87 L327.18,124.21 L327.70,124.56 L328.22,124.90 L328.74,125.25 L329.25,125.60 L329.77,125.96 L330.29,126.31 L330.81,126.67 L331.33,127.03 L331.85,127.39 L332.37,127.76 L332.89,128.12 L333.40,128.49 L333.92,128.87 L334.44,129.24 L334.96,129.62 L335.48,130.00 L336.00,130.39 L336.52,130.78 L337.03,131.17 L337.55,131.56 L338.07,131.96 L338.59,132.36 L339.11,132.77 L339.63,133.17 L340.15,133.58 L340.66,134.00 L341.18,134.42 L341.70,134.84 L342.22,135.26 L342.74,135.68 L343.26,136.11 L343.78,136.55 L344.30,136.98 L344.81,137.42 L345.33,137.86 L345.85,138.30 L346.37,138.75 L346.89,139.19 L347.41,139.64 L347.93,140.10 L348.44,140.55 L348.96,141.01 L349.48,141.47 L350.00,141.93 L350.52,142.40 L351.04,142.86 L351.56,143.33 L352.07,143.80 L352.59,144.27 L353.11,144.75 L353.63,145.23 L354.15,145.70 L354.67,146.18 L355.19,146.67 L355.71,147.15 L356.22,147.64 L356.74,148.12 L357.26,148.61 L357.78,149.10 L358.30,149.59 L358.82,150.09 L359.34,150.58 L359.85,151.08 L360.37,151.58 L360.89,152.07 L361.41,152.57 L361.93,153.08 L362.45,153.58 L362.97,154.08 L363.48,154.58 L364.00,155.09 L364.52,155.60 L365.04,156.10 L365.56,156.61 L366.08,157.12 L366.60,157.63 L367.12,158.14 L367.63,158.65 L368.15,159.16 L368.67,159.67 L369.19,160.18 L369.71,160.70 L370.23,161.21 L370.75,161.72 L371.26,162.24 L371.78,162.75 L372.30,163.26 L372.82,163.78 L373.34,164.29 L373.86,164.81 L374.38,165.32 L374.89,165.83 L375.41,166.35 L375.93,166.86 L376.45,167.38 L376.97,167.89 L377.49,168.40 L378.01,168.91 L378.53,169.43 L379.04,169.94 L379.56,170.45 L380.08,170.96 L380.60,171.47" stroke="#000" stroke-width="1.38" fill="none"/>
<rect x="67.1" y="14.4" width="313.5" height="225.29999999999998" fill="none" stroke="#000" stroke-width="0.95"/>
<path d="M333.3,25.5 H366.7 M333.3,23.8 v3.4 M366.7,23.8 v3.4" stroke="#2e8b3e" stroke-width="0.7" fill="none"/>
<path d="M347.3,25.5 L349.5,23.3 L351.7,25.5 L349.5,27.7 Z" fill="#006400"/>
<text x="326.5" y="29.5" text-anchor="end" font-size="12.4">Voyager</text>
<path d="M333.3,40.0 H366.7 M333.3,38.3 v3.4 M366.7,38.3 v3.4" stroke="#ff3030" stroke-width="0.7" fill="none"/>
<circle cx="349.5" cy="40.0" r="1.75" fill="none" stroke="#ff0000" stroke-width="0.85"/>
<text x="326.5" y="44.0" text-anchor="end" font-size="12.4">AMS-02</text>
<path d="M333.3,54.4 H366.7 M333.3,52.699999999999996 v3.4 M366.7,52.699999999999996 v3.4" stroke="#3030ff" stroke-width="0.7" fill="none"/>
<circle cx="349.5" cy="54.4" r="2.1" fill="#0000ff"/>
<text x="326.5" y="58.4" text-anchor="end" font-size="12.4">DAMPE</text>
<text x="74" y="28.8" font-size="12.4">Proton</text>
<text x="67.10" y="257.6" text-anchor="middle" font-size="12.4">10<tspan dy="-5" font-size="10">-3</tspan></text>
<text x="106.29" y="257.6" text-anchor="middle" font-size="12.4">10<tspan dy="-5" font-size="10">-2</tspan></text>
<text x="145.47" y="257.6" text-anchor="middle" font-size="12.4">10<tspan dy="-5" font-size="10">-1</tspan></text>
<text x="184.66" y="257.6" text-anchor="middle" font-size="12.4">10<tspan dy="-5" font-size="10">0</tspan></text>
<text x="223.85" y="257.6" text-anchor="middle" font-size="12.4">10<tspan dy="-5" font-size="10">1</tspan></text>
<text x="263.04" y="257.6" text-anchor="middle" font-size="12.4">10<tspan dy="-5" font-size="10">2</tspan></text>
<text x="302.23" y="257.6" text-anchor="middle" font-size="12.4">10<tspan dy="-5" font-size="10">3</tspan></text>
<text x="341.41" y="257.6" text-anchor="middle" font-size="12.4">10<tspan dy="-5" font-size="10">4</tspan></text>
<text x="380.60" y="257.6" text-anchor="middle" font-size="12.4">10<tspan dy="-5" font-size="10">5</tspan></text>
<text x="59.9" y="244.40" text-anchor="end" font-size="12.4">10<tspan dy="-5" font-size="10">-1</tspan></text>
<text x="59.9" y="199.34" text-anchor="end" font-size="12.4">10<tspan dy="-5" font-size="10">0</tspan></text>
<text x="59.9" y="154.28" text-anchor="end" font-size="12.4">10<tspan dy="-5" font-size="10">1</tspan></text>
<text x="59.9" y="109.22" text-anchor="end" font-size="12.4">10<tspan dy="-5" font-size="10">2</tspan></text>
<text x="59.9" y="64.16" text-anchor="end" font-size="12.4">10<tspan dy="-5" font-size="10">3</tspan></text>
<text x="59.9" y="19.10" text-anchor="end" font-size="12.4">10<tspan dy="-5" font-size="10">4</tspan></text>
<text x="224" y="274.1" text-anchor="middle" font-size="12.4">E (GeV)</text>
<text transform="translate(30,127.3) rotate(-90)" text-anchor="middle" font-size="12.4">E<tspan dy="-5" font-size="10">2</tspan><tspan dy="5">Flux (GeV m</tspan><tspan dy="-5" font-size="10">-2</tspan><tspan dy="5"> s</tspan><tspan dy="-5" font-size="10">-1</tspan><tspan dy="5"> sr</tspan><tspan dy="-5" font-size="10">-1</tspan><tspan dy="5">)</tspan></text>
</svg>
</body></html>
